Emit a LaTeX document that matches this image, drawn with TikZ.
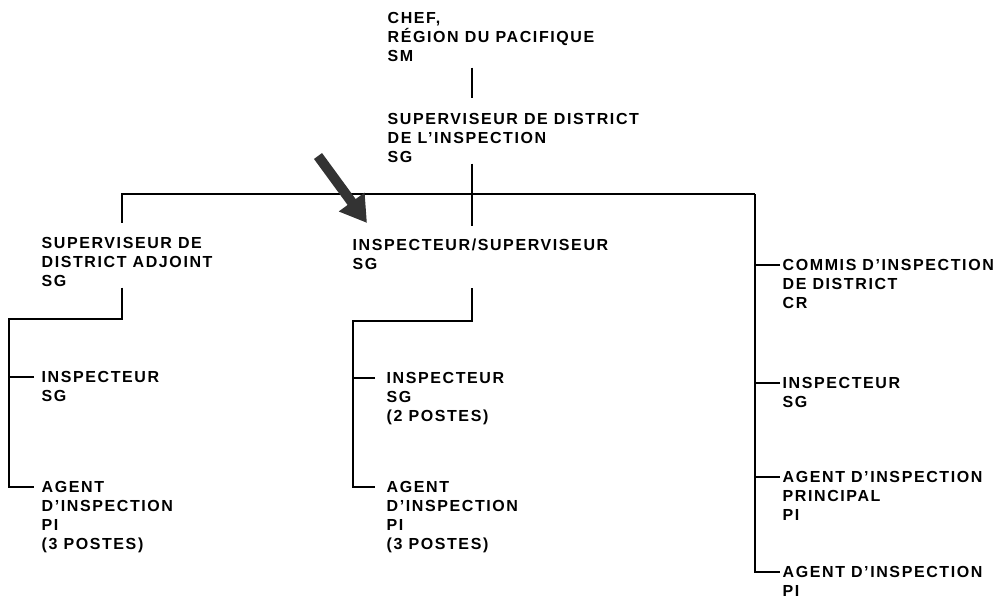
\documentclass[tikz,border=0pt]{standalone}
\usepackage{fontspec}
\setmainfont{Liberation Sans}[LetterSpace=10]
\usetikzlibrary{arrows.meta}

\begin{document}
\begin{tikzpicture}[x=1pt, y=-1pt, line width=1.3pt,
  post/.style={anchor=north west, align=left, inner sep=0pt,
    font=\fontsize{16}{19}\selectfont\bfseries}]
  \useasboundingbox (0,0) rectangle (1008,600);

  \node[post] (chef)   at (387,12)  {CHEF,\\RÉGION DU PACIFIQUE\\SM};
  \node[post] (sup)    at (387,113) {SUPERVISEUR DE DISTRICT\\DE L'INSPECTION\\SG};
  \node[post] (adj)    at (41,237)  {SUPERVISEUR DE\\DISTRICT ADJOINT\\SG};
  \node[post] (isup)   at (352,238) {INSPECTEUR/SUPERVISEUR\\SG};
  \node[post] (commis) at (782,259) {COMMIS D'INSPECTION\\DE DISTRICT\\CR};
  \node[post] (inspA)  at (41,371)  {INSPECTEUR\\SG};
  \node[post] (agentA) at (41,481)  {AGENT\\D'INSPECTION\\PI\\(3 POSTES)};
  \node[post] (inspB)  at (386,372) {INSPECTEUR\\SG\\(2 POSTES)};
  \node[post] (agentB) at (386,481) {AGENT\\D'INSPECTION\\PI\\(3 POSTES)};
  \node[post] (inspC)  at (782,377) {INSPECTEUR\\SG};
  \node[post] (agentC) at (782,471) {AGENT D'INSPECTION\\PRINCIPAL\\PI};
  \node[post] (agentD) at (782,566) {AGENT D'INSPECTION\\PI};

  \coordinate (spine) at (472,0);
  \coordinate (barL)  at (122,194);
  \coordinate (barR)  at (755,194);
  \coordinate (subL)  at (9,319);
  \coordinate (subM)  at (353,321);
  \coordinate (tail)  at (318,156);
  \coordinate (tip)   at (367,223);

  \draw[shorten <=5pt, shorten >=15pt] (chef.south -| spine) -- (sup.north -| spine);
  \draw[shorten >=12pt] (sup.south -| spine) -- (isup.north -| spine);
  \draw[shorten >=14pt] (barR) -- (barL) -- (barL |- adj.north);
  \draw (barR) |- ([shift={(-2pt,-6pt)}]agentD.north west);
  \foreach \n in {commis,inspC,agentC}
    \draw ([shift={(-2pt,-6pt)}]\n.north west) -| (barR);

  \draw (adj.south -| barL) |- (subL) |- ([shift={(-7pt,-6pt)}]agentA.north west);
  \draw ([shift={(-7pt,-6pt)}]inspA.north west) -| (subL);
  \draw[shorten <=18pt] (isup.south -| spine) |- (subM) |- ([shift={(-11pt,-6pt)}]agentB.north west);
  \draw ([shift={(-11pt,-6pt)}]inspB.north west) -| (subM);

  \draw[line width=10pt, draw=black!80, -{Triangle[length=26pt,width=30pt]}] (tail) -- (tip);
\end{tikzpicture}
\end{document}
